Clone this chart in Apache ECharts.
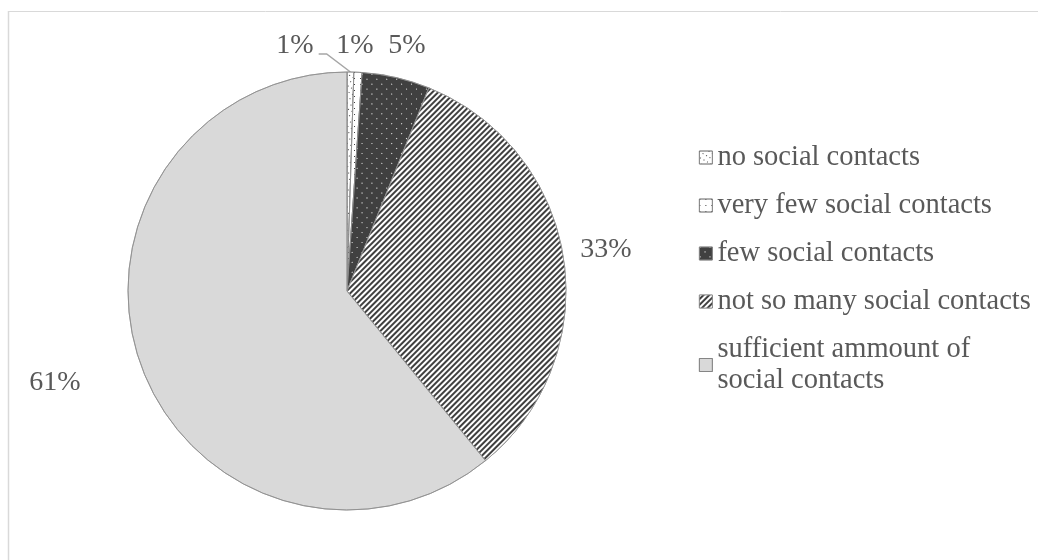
<!DOCTYPE html>
<html>
<head>
<meta charset="utf-8">
<script src="https://cdn.jsdelivr.net/npm/echarts@6/dist/echarts.min.js"></script>
<style>
html,body{margin:0;padding:0;background:#fff;}
#chart{width:1038px;height:560px;}
</style>
</head>
<body>
<div id="chart"></div>
<script>
const categories = ['no social contacts','very few social contacts','few social contacts','not so many social contacts','sufficient ammount of\nsocial contacts'];
const values = [0.5, 0.6, 5.0, 33.0, 60.9];

const fillColors = ['#ffffff','#ffffff','#404040','#404040','#d9d9d9'];
const decals = [
  {symbol:'rect', symbolSize:1, color:'#404040', dashArrayX:[1,3], dashArrayY:[1,4]},
  {symbol:'rect', symbolSize:1, color:'#404040', dashArrayX:[1,5], dashArrayY:[1,5]},
  {symbol:'rect', symbolSize:1, color:'#ffffff', dashArrayX:[1,6], dashArrayY:[1,6]},
  {symbol:'rect', symbolSize:1, color:'#ffffff', dashArrayX:[1,0], dashArrayY:[1.4,1.4], rotation:-Math.PI/4},
  {symbol:'none'}
];

const CX = 347, CY = 291, R = 219;
// label anchor offsets from the pie centre (layout only)
const labelOffsets = [[-52,-245],[8,-245],[60,-245],[259,-41],[-292,92]];

const chart = echarts.init(document.getElementById('chart'), null, {renderer:'canvas'});
const FONT = '"Liberation Serif","Times New Roman",serif';
chart.setOption({
  animation:false,
  aria:{enabled:true, decal:{show:true}},
  graphic:[
    {type:'line', shape:{x1:8.5,y1:11,x2:8.5,y2:560}, style:{stroke:'#d9d9d9', lineWidth:1.5}},
    {type:'line', shape:{x1:8,y1:11.5,x2:1038,y2:11.5}, style:{stroke:'#d9d9d9', lineWidth:1}}
  ],
  legend:{
    orient:'vertical', left:694, top:137,
    itemWidth:13, itemHeight:13, itemGap:17,
    icon:'rect',
    textStyle:{fontFamily:FONT, fontSize:28.5, color:'#595959', lineHeight:31},
    itemStyle:{borderColor:'#7f7f7f', borderWidth:0.75},
    data:categories
  },
  series:[{
    type:'pie',
    center:[CX,CY], radius:R,
    startAngle:90, clockwise:true,
    avoidLabelOverlap:false,
    itemStyle:{borderColor:'#8c8c8c', borderWidth:0.75},
    label:{show:true, position:'outside', fontFamily:FONT, fontSize:28, color:'#595959',
      formatter:p=>Math.round(p.value)+'%'},
    labelLine:{show:false, length:10, length2:10, lineStyle:{color:'#a6a6a6', width:1.5}},
    labelLayout:function(params){
      const o = labelOffsets[params.dataIndex];
      const x = CX + o[0], y = CY + o[1];
      const res = {x:x, y:y, align:'center', verticalAlign:'middle'};
      if (params.dataIndex === 0 && params.labelLinePoints) {
        const p0 = params.labelLinePoints[0];
        const endX = x + params.labelRect.width/2 + 5;
        res.labelLinePoints = [p0, [endX + 8, y + 8], [endX, y + 8]];
      }
      return res;
    },
    emphasis:{disabled:true},
    data:categories.map((c,i)=>({name:c, value:values[i],
      itemStyle:{color:fillColors[i], decal:decals[i]},
      labelLine:{show:i===0}}))
  }]
});
</script>
</body>
</html>
